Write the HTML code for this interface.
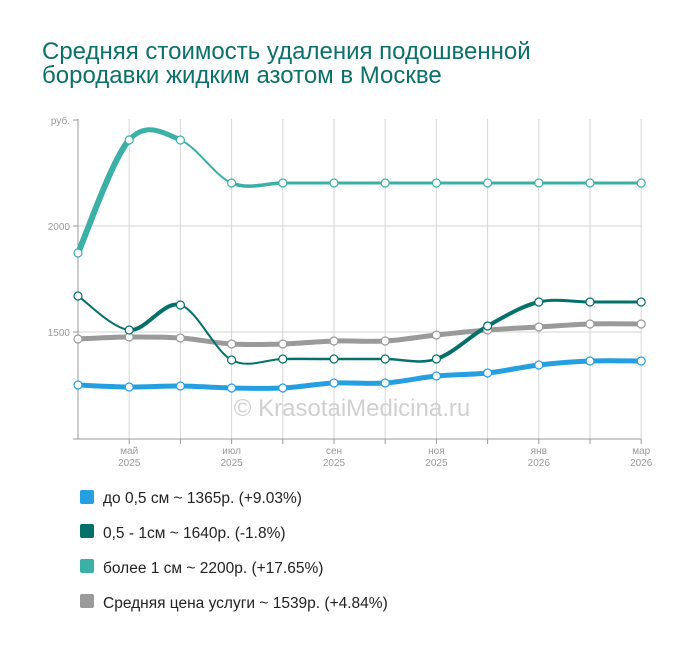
<!DOCTYPE html>
<html><head><meta charset="utf-8"><style>
body{margin:0;background:#fff;width:700px;height:650px;overflow:hidden;font-family:"Liberation Sans",sans-serif}
</style></head><body>
<svg id="s" width="700" height="650" xmlns="http://www.w3.org/2000/svg" font-family="Liberation Sans, sans-serif">
<text x="42" y="59" font-size="24" fill="#0b7169">Средняя стоимость удаления подошвенной</text>
<text x="42" y="83" font-size="24" fill="#0b7169">бородавки жидким азотом в Москве</text>
<g id="grid" stroke="#d6d6d6" stroke-width="1"></g>
<line x1="78" y1="119" x2="78" y2="439" stroke="#999"/>
<line x1="73" y1="439" x2="641" y2="439" stroke="#999"/>
<line x1="73" y1="120" x2="78" y2="120" stroke="#999"/>
<line x1="73" y1="226" x2="78" y2="226" stroke="#999"/>
<line x1="73" y1="332" x2="78" y2="332" stroke="#999"/>
<text x="70" y="124" font-size="10" fill="#999" text-anchor="end">руб.</text>
<text x="70" y="230" font-size="10" fill="#999" text-anchor="end">2000</text>
<text x="70" y="336" font-size="10" fill="#999" text-anchor="end">1500</text>
<text x="352" y="416" font-size="24" fill="#d0d0d0" text-anchor="middle">© KrasotaiMedicina.ru</text>
<g font-size="10" fill="#999" text-anchor="middle" id="xl"></g>
<g id="lines" fill="none" stroke-linecap="round"></g>
<g id="pts" fill="#fff"></g>
<g font-size="15.5" fill="#222">
<rect x="80" y="490" width="14" height="14" rx="2" fill="#259fe0"/><text x="103" y="503">до 0,5 см ~ 1365р. (+9.03%)</text>
<rect x="80" y="524" width="14" height="14" rx="2" fill="#05706a"/><text x="103" y="538">0,5 - 1см ~ 1640р. (-1.8%)</text>
<rect x="80" y="559" width="14" height="14" rx="2" fill="#3bb0a6"/><text x="103" y="573">более 1 см ~ 2200р. (+17.65%)</text>
<rect x="80" y="594" width="14" height="14" rx="2" fill="#9a9a9a"/><text x="103" y="608">Средняя цена услуги ~ 1539р. (+4.84%)</text>
</g>
</svg>
<script>
var X=[];for(var i=0;i<12;i++)X.push(78+51.2*i);
var ns="http://www.w3.org/2000/svg";
function el(p,t,a){var e=document.createElementNS(ns,t);for(var k in a)e.setAttribute(k,a[k]);document.getElementById(p).appendChild(e);return e;}
for(var i=1;i<12;i++){el('grid','line',{x1:X[i],y1:119,x2:X[i],y2:439});}
el('grid','line',{x1:78,y1:226,x2:641,y2:226});el('grid','line',{x1:78,y1:332,x2:641,y2:332});
for(var i=1;i<12;i++)el('grid','line',{x1:X[i],y1:439,x2:X[i],y2:444,stroke:'#999'});
var lab=[[1,'май','2025'],[3,'июл','2025'],[5,'сен','2025'],[7,'ноя','2025'],[9,'янв','2026'],[11,'мар','2026']];
lab.forEach(function(l){var t=el('xl','text',{x:X[l[0]],y:454});t.textContent=l[1];t=el('xl','text',{x:X[l[0]],y:466});t.textContent=l[2];});
var S=[
 ['#9a9a9a',[5,5,5,5,5,5,5,5,5,5,5],[339,337,338,344,344,341,341,335,330,327,324,324]],
 ['#259fe0',[5,5,5,5,5,5,5,5,5,5,5],[385,387,386,388,388,383,383,376,373,365,361,361]],
 ['#05706a',[2,4,2,2,2.5,2.5,2.5,4,4,3,3],[296,330,305,360,359,359,359,359,326,302,302,302]],
 ['#3bb0a6',[6,5,2,3.5,3,3,3,3,3,3,3],[253,140,140,183,183,183,183,183,183,183,183,183]]];
S.forEach(function(s){var Y=s[2];
 for(var i=0;i<11;i++){var p0=i?i-1:i,p3=i<10?i+2:i+1;
  var c1x=X[i]+(X[i+1]-X[p0])/6,c1y=Y[i]+(Y[i+1]-Y[p0])/6,c2x=X[i+1]-(X[p3]-X[i])/6,c2y=Y[i+1]-(Y[p3]-Y[i])/6;
  var d='M'+X[i]+','+Y[i]+'C'+c1x+','+c1y+' '+c2x+','+c2y+' '+X[i+1]+','+Y[i+1];
  el('lines','path',{d:d,stroke:s[0],'stroke-width':s[1][i]});}
 for(var i=0;i<12;i++)el('pts','circle',{cx:X[i],cy:Y[i],r:4,stroke:s[0],'stroke-width':1.2});});
</script>
</body></html>
